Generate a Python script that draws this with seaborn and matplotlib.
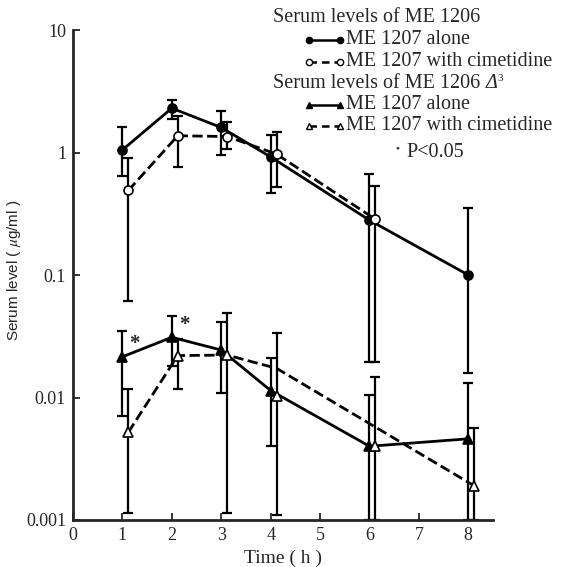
import matplotlib
matplotlib.use("Agg")
import matplotlib.pyplot as plt
from matplotlib.lines import Line2D
from matplotlib.text import Annotation
import pandas as pd
import seaborn as sns

# time points (h); cimetidine series drawn slightly to the right
time_alone = [1, 2, 3, 4, 6, 8]
time_cim = [1.12, 2.12, 3.12, 4.12, 6.12, 8.12]

# ME 1206 serum levels (ug/ml)
me1206_alone = [1.05, 2.3, 1.6, 0.92, 0.28, 0.10]
me1206_alone_hi = [1.6, 2.7, 2.2, 1.4, 0.67, 0.35]
me1206_alone_lo = [0.64, 1.87, 0.95, 0.47, 0.0196, 0.0158]

me1206_cim = [0.49, 1.37, 1.35, 0.97, 0.285]
me1206_cim_hi = [0.91, 2.0, 1.78, 1.48, 0.53]
me1206_cim_lo = [0.061, 0.76, 1.06, 0.52, 0.0196]

# ME 1206 delta3 serum levels (ug/ml)
delta_alone = [0.0215, 0.031, 0.0244, 0.0114, 0.0040, 0.0046]
delta_alone_hi = [0.035, 0.046, 0.041, 0.021, 0.0104, 0.0132]
delta_alone_lo = [0.0071, 0.018, 0.0108, 0.0040, 0.001, 0.001]

delta_cim = [0.0052, 0.022, 0.0222, 0.0103, 0.0040, 0.0019]
delta_cim_hi = [0.0117, 0.030, 0.0487, 0.0334, 0.0148, 0.0056]
delta_cim_lo = [0.00114, 0.0117, 0.00114, 0.0011, 0.001, 0.001]

# the dashed curve of the original figure does not pass through every marker
delta_cim_line_t = [1.12, 2.12, 3.12, 4.12, 8.12]
delta_cim_line = [0.0052, 0.022, 0.0222, 0.0173, 0.0019]

# points marked significant (P<0.05)
signif_t = [1, 2]
signif_y = [0.0215, 0.031]

sns.set_style("ticks")
plt.rcParams['font.family'] = ['Liberation Serif', 'DejaVu Serif']
plt.rcParams['mathtext.fontset'] = 'stix'

fig = plt.figure(figsize=(5.68, 5.67), dpi=100)
ax = fig.add_axes([73 / 568, 47 / 567, 420 / 568, 490 / 567])

series = [
    (time_alone, me1206_alone, me1206_alone_lo, me1206_alone_hi, 'o', 'black', '-', True),
    (time_cim[:5], me1206_cim, me1206_cim_lo, me1206_cim_hi, 'o', 'white', '--', True),
    (time_alone, delta_alone, delta_alone_lo, delta_alone_hi, '^', 'black', '-', True),
    (time_cim, delta_cim, delta_cim_lo, delta_cim_hi, '^', 'white', '--', False),
]

sns.lineplot(x=delta_cim_line_t, y=delta_cim_line, ax=ax, color='black', lw=2,
             linestyle='--', errorbar=None, sort=False, zorder=3)

for t, y, lo, hi, mk, face, ls, joined in series:
    yerr = [[v - l for v, l in zip(y, lo)], [h - v for v, h in zip(y, hi)]]
    ax.errorbar(t, y, yerr=yerr, fmt='none', ecolor='black', elinewidth=1.6,
                capsize=3.5, capthick=1.6, zorder=2)
    df = pd.DataFrame({'t': t, 'y': y})
    sns.lineplot(data=df, x='t', y='y', ax=ax, color='black', lw=2,
                 linestyle=ls if joined else 'none',
                 marker=mk, markersize=6.5, markerfacecolor=face,
                 markeredgecolor='black', markeredgewidth=1.2,
                 errorbar=None, sort=False, zorder=4)

for t, y in zip(signif_t, signif_y):
    ax.annotate('*', (t, y), xytext=(5, 2), textcoords='offset points',
                fontsize=15, fontweight='bold', ha='left', va='bottom')

ax.set_yscale('log')
ax.set_ylim(0.001, 10)
ax.set_xlim(0, 8.5)
ax.set_xticks(range(0, 9))
ax.set_yticks([0.001, 0.01, 0.1, 1, 10])
ax.set_yticklabels(['0.001', '0.01', '0.1', '1', '10'])
ax.minorticks_off()
ax.tick_params(direction='in', length=5, width=1.3, labelsize=13, pad=5)
for s in ['top', 'right']:
    ax.spines[s].set_visible(False)
for s in ['left', 'bottom']:
    ax.spines[s].set_linewidth(2)

ax.set_xlabel('Time ( h )', fontsize=14, labelpad=4)
ax.set_ylabel('Serum level ( $\\mathit{\\mu}$g/ml )', fontsize=11,
              family=['Liberation Sans', 'DejaVu Sans'])
ax.yaxis.set_label_coords(-0.118, 0.51)

# legend drawn by hand in figure pixels
W, H = 568, 567


def fx(px):
    return px / W


def fy(py):
    return 1 - py / H


fs = 14.5
fig.text(fx(273), fy(17), 'Serum levels of ME 1206', fontsize=fs, va='center')
hdr = fig.text(fx(273), fy(84), 'Serum levels of ME 1206 ', fontsize=fs, va='center')
dlt = fig.add_artist(Annotation('\u0394', xy=(1.0, 0.5), xycoords=hdr, xytext=(0, 0),
                                textcoords='offset points', fontsize=fs,
                                style='italic', va='center', ha='left'))
fig.add_artist(Annotation('3', xy=(1.0, 0.5), xycoords=dlt, xytext=(0.5, 1),
                          textcoords='offset points', fontsize=8,
                          va='bottom', ha='left'))

items = [(40, 'o', 'black', '-'), (62, 'o', 'white', '--'),
         (105, '^', 'black', '-'), (126, '^', 'white', '--')]
for py, mk, face, ls in items:
    fig.add_artist(Line2D([fx(309), fx(340)], [fy(py), fy(py)], transform=fig.transFigure,
                          color='black', lw=1.8, linestyle=ls, dashes=(3, 2) if ls == '--' else (None, None),
                          marker=mk, markersize=4.5, markerfacecolor=face,
                          markeredgecolor='black', markeredgewidth=1))
    label = 'ME 1207 alone' if face == 'black' else 'ME 1207 with cimetidine'
    fig.text(fx(346), fy(py), label, fontsize=fs, va='center')

fig.text(fx(397), fy(149), '\u2022', fontsize=8, va='center', ha='center')
fig.text(fx(406), fy(153), 'P<0.05', fontsize=fs, va='center')

fig.savefig('out.png', dpi=100)
